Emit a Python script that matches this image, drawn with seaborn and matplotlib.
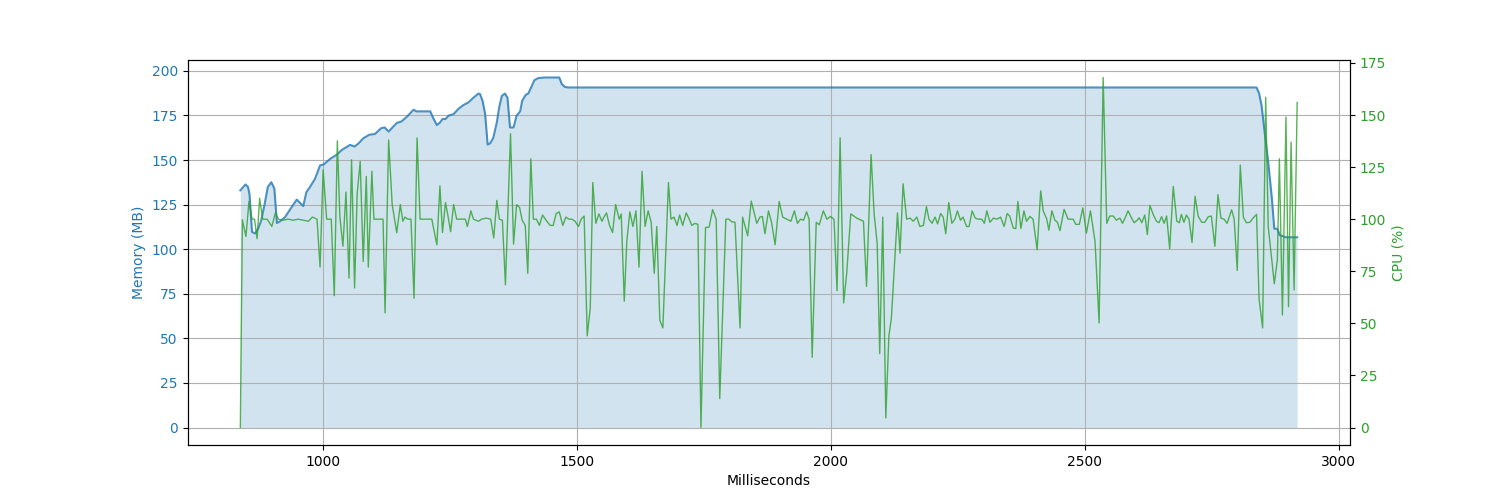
import numpy as np
import pandas as pd
import matplotlib
matplotlib.use('Agg')
import matplotlib.pyplot as plt
import seaborn as sns

# memory samples (ms, MB)
mem_ms = [837, 847, 852, 855, 860, 866, 872, 878, 885, 891, 898, 904, 909, 915,
          925, 932, 938, 948, 961, 967, 974, 984, 994, 1001, 1014, 1027, 1037,
          1053, 1062, 1070, 1079, 1091, 1102, 1114, 1121, 1129, 1135, 1145, 1154,
          1165, 1178, 1184, 1211, 1216, 1224, 1230, 1235, 1241, 1247, 1257, 1266,
          1276, 1286, 1296, 1306, 1309, 1314, 1319, 1324, 1329, 1335, 1342, 1347,
          1352, 1358, 1363, 1368, 1375, 1381, 1388, 1392, 1399, 1404, 1411, 1416,
          1424, 1437, 1465, 1470, 1476, 1483, 2838, 2843, 2848, 2854, 2861, 2868,
          2873, 2879, 2884, 2890, 2896, 2918]
mem_mb = [133, 136.3, 135, 131, 109.7, 108.8, 111.5, 116, 125.5, 134.8, 137.6, 134,
          114.7, 115.6, 118, 121, 123.6, 127.8, 124.2, 132, 134.8, 139.5, 147,
          147.5, 150.7, 153, 155.7, 158.5, 157.6, 159.4, 162.2, 164.2, 164.6,
          167.8, 168.3, 166, 167.8, 170.8, 171.6, 174.3, 178.2, 177.3, 177.3, 174,
          169.6, 171, 173, 173, 174.9, 175.8, 178.6, 180.8, 182.3, 185, 187.3, 187,
          183.2, 175.8, 158.7, 159.4, 162.4, 171, 180, 186, 187.3, 185, 168.3,
          168.3, 174.9, 177.3, 183.2, 186.6, 187.3, 191.6, 194.8, 196, 196.3,
          196.3, 192.6, 191, 190.7, 190.7, 187.5, 180.4, 165.5, 148.8, 129.2,
          111.5, 111.5, 107.8, 107.3, 106.7, 106.7]

# cpu samples (ms, %)
cpu_ms = [837, 841, 848, 854, 860, 865, 870, 875, 881, 890, 899, 906, 912, 921,
          931, 941, 951, 961, 971, 979, 988, 994, 1000, 1007, 1016, 1022, 1028,
          1033, 1039, 1045, 1051, 1056, 1062, 1067, 1073, 1079, 1085, 1089, 1096,
          1100, 1118, 1122, 1129, 1136, 1145, 1152, 1157, 1161, 1167, 1173, 1179,
          1185, 1191, 1201, 1214, 1224, 1230, 1235, 1241, 1247, 1251, 1257, 1263,
          1272, 1280, 1284, 1291, 1296, 1306, 1312, 1321, 1330, 1336, 1342, 1347,
          1353, 1359, 1369, 1375, 1381, 1387, 1392, 1398, 1403, 1409, 1414, 1420,
          1426, 1432, 1439, 1447, 1453, 1459, 1465, 1472, 1478, 1484, 1490, 1496,
          1503, 1508, 1514, 1520, 1526, 1531, 1537, 1543, 1549, 1553, 1558, 1564,
          1570, 1576, 1583, 1587, 1593, 1598, 1604, 1610, 1616, 1622, 1628, 1634,
          1640, 1646, 1652, 1657, 1663, 1669, 1680, 1685, 1691, 1697, 1702, 1708,
          1715, 1721, 1726, 1732, 1738, 1744, 1753, 1760, 1767, 1774, 1781, 1793,
          1799, 1805, 1811, 1821, 1826, 1836, 1843, 1854, 1860, 1865, 1870, 1877,
          1883, 1890, 1898, 1905, 1913, 1921, 1928, 1934, 1940, 1946, 1952, 1957,
          1963, 1971, 1977, 1985, 1992, 1999, 2006, 2012, 2018, 2025, 2031, 2039,
          2051, 2064, 2070, 2079, 2085, 2091, 2096, 2102, 2108, 2114, 2119, 2126,
          2131, 2136, 2142, 2149, 2156, 2162, 2169, 2175, 2182, 2188, 2193, 2199,
          2205, 2210, 2216, 2221, 2226, 2232, 2238, 2244, 2249, 2255, 2260, 2267,
          2272, 2278, 2284, 2290, 2297, 2302, 2307, 2313, 2320, 2327, 2334, 2341,
          2347, 2352, 2359, 2364, 2368, 2374, 2380, 2385, 2392, 2398, 2406, 2413,
          2418, 2425, 2429, 2435, 2441, 2446, 2451, 2459, 2467, 2477, 2482, 2489,
          2496, 2503, 2511, 2520, 2528, 2536, 2543, 2549, 2556, 2562, 2569, 2574,
          2579, 2585, 2592, 2597, 2603, 2607, 2612, 2618, 2623, 2628, 2635, 2641,
          2646, 2651, 2656, 2661, 2667, 2674, 2681, 2686, 2690, 2695, 2700, 2705,
          2711, 2717, 2723, 2730, 2736, 2743, 2749, 2756, 2762, 2768, 2774, 2780,
          2789, 2794, 2800, 2806, 2812, 2818, 2825, 2831, 2838, 2843, 2850, 2856,
          2861, 2873, 2879, 2883, 2889, 2896, 2901, 2906, 2912, 2918]
cpu_pct = [0, 99.7, 91.7, 108.5, 100, 100, 90.6, 110, 100, 100, 96.5, 103, 100,
           99.5, 100, 99.5, 100, 99.5, 99, 101, 100, 77, 123.7, 100, 100, 63.3,
           137.6, 101, 87, 113, 71.7, 128.5, 67, 112, 127.7, 79.7, 120.5, 77, 123,
           100, 100, 55, 138, 107, 93.5, 107, 99, 101, 100, 100, 62, 139, 100, 100,
           100, 87.7, 116, 93.6, 108, 100, 94, 107, 100, 100, 100, 96.5, 104, 100,
           99, 100, 100.5, 100, 91, 109, 100, 99.5, 68.5, 141, 88, 107, 105.5, 99.5,
           97, 74, 129, 100, 100, 97, 102, 99.5, 97, 97, 102.7, 103.5, 97, 101, 100,
           100, 99, 96.5, 100, 101.5, 44, 57.4, 117.6, 98, 102.5, 99, 101, 103, 97,
           93.6, 107, 100, 102.5, 60.6, 89.3, 103.5, 96.5, 104, 77, 123, 96.5, 104,
           98.5, 74, 96.5, 51.5, 47.8, 117.6, 100, 101, 97, 102, 97, 103, 100, 97,
           98, 97.5, 0, 96, 96.2, 104.6, 100, 13.9, 100, 100, 98.7, 98.5, 47.8, 101,
           92, 108.7, 98, 101, 101.3, 93, 104, 98.5, 87.7, 108.5, 101, 100, 99, 104,
           98, 100, 99.5, 103.5, 100, 33.7, 98.5, 97.3, 104, 100, 101.3, 100, 65.7,
           139, 59.8, 74, 102.5, 100.5, 99, 67.7, 131, 102.5, 88.5, 35.5, 101, 4.6,
           43.8, 52.6, 82, 103, 83.7, 117, 100, 100.5, 99, 101, 96.5, 97, 106, 100,
           98, 101, 97.7, 102.7, 101, 93, 108, 98, 100, 104, 99.5, 101, 96.5, 96.5,
           104, 100.5, 100, 100, 98, 104, 98.5, 100.5, 100, 101, 96.5, 102.7, 101.5,
           95.7, 95.5, 108.5, 95.5, 104, 99, 101.3, 100, 85.3, 113.6, 104, 100,
           94.7, 104, 99.5, 98.5, 94.5, 104.7, 100, 100, 97.5, 97.5, 105.4, 93.3,
           104, 89.3, 50.2, 168, 98, 101.5, 101.5, 99.5, 100.5, 98, 100.5, 104,
           100.5, 98.3, 99.5, 100.7, 98.3, 102, 92.6, 106.6, 102, 99, 98.3, 101.2,
           98, 101.5, 85.8, 115.7, 99, 98.3, 102.3, 98.5, 102, 100, 88.8, 111,
           101.5, 98.5, 98.5, 101.2, 101.5, 87, 111.8, 100.5, 100, 98, 104.5, 100,
           75.4, 126, 101, 98.3, 98.5, 100.5, 102.3, 61.7, 47.8, 158.5, 96.5, 69,
           80.5, 129, 54, 149, 58, 137, 66, 156]

mem_df = pd.DataFrame({'ms': mem_ms, 'mb': mem_mb})
cpu_df = pd.DataFrame({'ms': cpu_ms, 'cpu': cpu_pct})

fig, ax1 = plt.subplots(figsize=(15, 5), dpi=100)

ax1.fill_between(mem_df['ms'], mem_df['mb'], color='tab:blue', alpha=0.2, linewidth=0)
sns.lineplot(data=mem_df, x='ms', y='mb', ax=ax1, color='tab:blue', alpha=0.8,
             linewidth=1.5, estimator=None)
ax1.set_xlabel('Milliseconds')
ax1.set_ylabel('Memory (MB)', color='tab:blue')
ax1.tick_params(axis='y', labelcolor='tab:blue')
ax1.grid(True)

ax2 = ax1.twinx()
sns.lineplot(data=cpu_df, x='ms', y='cpu', ax=ax2, color='tab:green', alpha=0.8,
             linewidth=1, estimator=None)
ax2.set_ylabel('CPU (%)', color='tab:green')
ax2.tick_params(axis='y', labelcolor='tab:green')

plt.savefig('out.png')
plt.close()
